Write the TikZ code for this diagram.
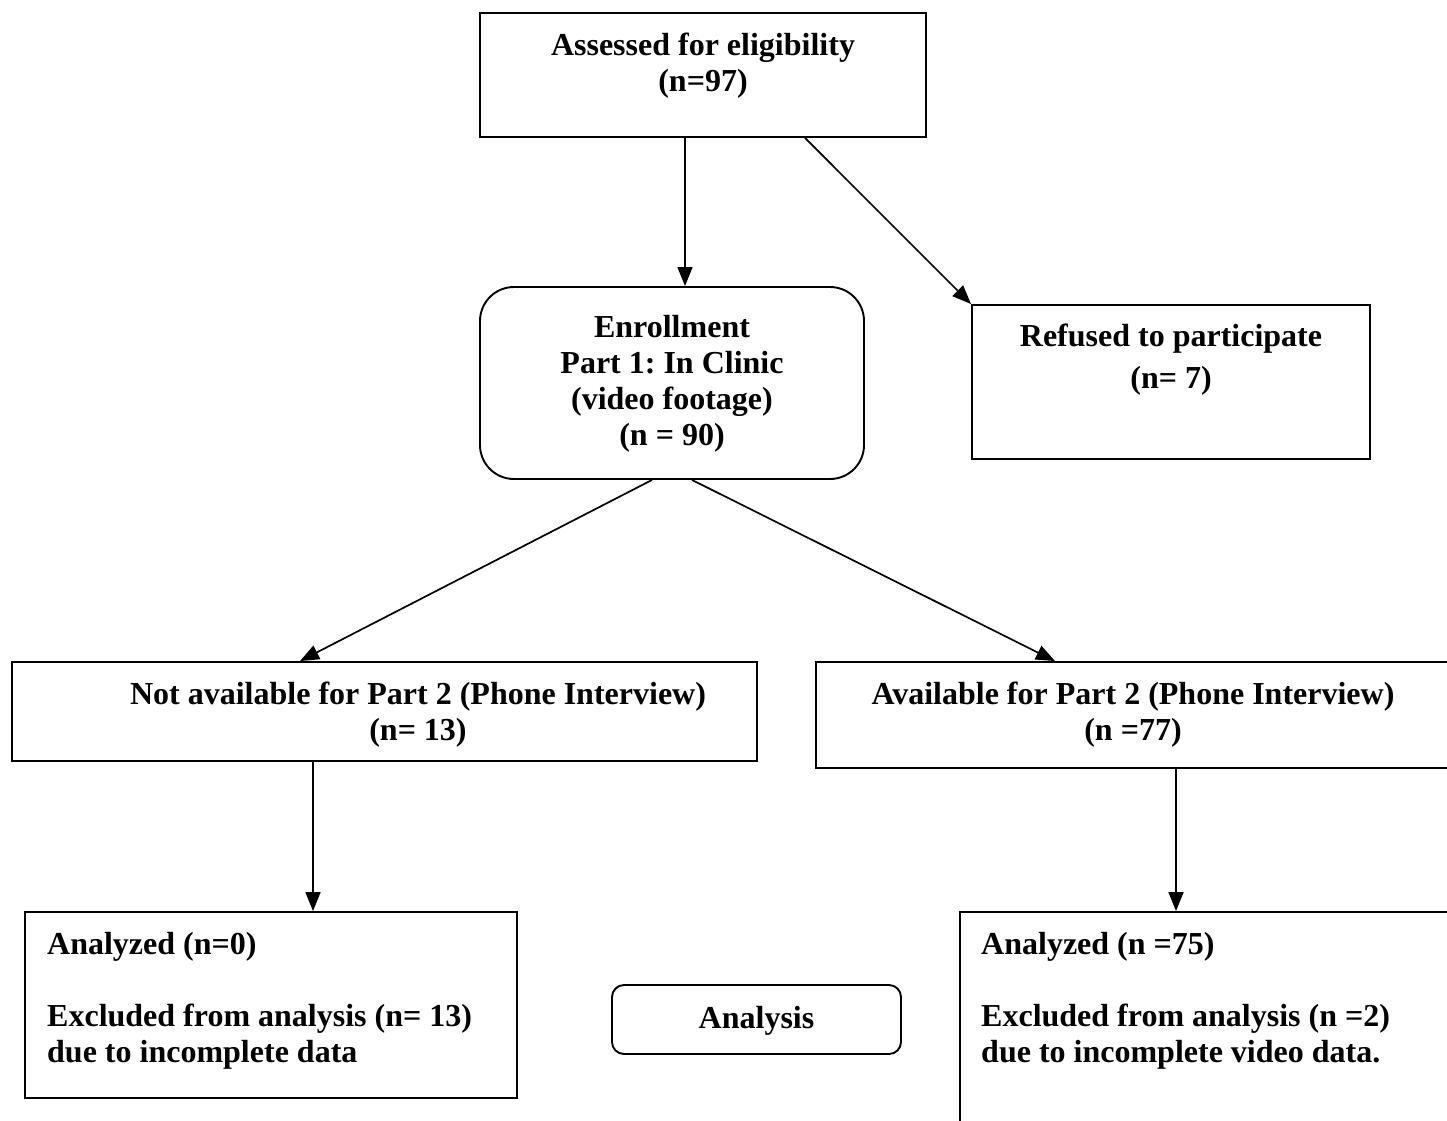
\documentclass[tikz,border=0pt]{standalone}
\usepackage{fontspec}
\setmainfont{Liberation Serif}
\frenchspacing
\usetikzlibrary{arrows.meta,calc}
\tikzset{
  box/.style={draw, line width=1.9pt, inner sep=0pt},
  rbox/.style={box, rounded corners=34pt},
  srbox/.style={box, rounded corners=12pt},
  txt/.style={font=\fontsize{32}{36}\selectfont\bfseries, align=center, inner sep=0pt},
  ltxt/.style={font=\fontsize{32}{36}\selectfont\bfseries, align=left, inner sep=0pt, anchor=west},
  arr/.style={line width=1.7pt, -{Triangle[length=19pt,width=15pt]}},
}
\begin{document}
\begin{tikzpicture}[x=1pt,y=-1pt]
\useasboundingbox (0,0) rectangle (1447,1120);
\clip (0,0) rectangle (1447,1120);
% boxes
\node[box, minimum width=446pt, minimum height=124pt] (top) at (703,75) {};
\node[rbox, minimum width=384pt, minimum height=192pt] (enroll) at (672,383) {};
\node[box, minimum width=398pt, minimum height=154pt] (refused) at (1171,382) {};
\node[box, minimum width=745pt, minimum height=99pt] (notavail) at (384.5,711.5) {};
\node[box, minimum width=644pt, minimum height=106pt] (avail) at (1138,715) {};
\node[box, minimum width=492pt, minimum height=186pt] (anL) at (271,1005) {};
\node[srbox, minimum width=289pt, minimum height=69pt] (analysis) at (756.5,1019.5) {};
\node[box, minimum width=500pt, minimum height=236pt] (anR) at (1210,1030) {};
% texts
\node[txt] (toptxt) at (703,66) {Assessed for eligibility\\(n=97)};
\node[txt] (enrtxt) at (672,384) {Enrollment\\Part 1: In Clinic\\(video footage)\\(n = 90)};
\node[txt] (reftxt) at (1171,360) {Refused to participate\\[6pt](n= 7)};
\node[txt] (natxt) at (418,715) {Not available for Part 2 (Phone Interview)\\(n= 13)};
\node[txt] (avtxt) at (1133,715) {Available for Part 2 (Phone Interview)\\(n =77)};
\node[ltxt] (anLtxt) at (47,1001) {Analyzed (n=0)\\[36pt]Excluded from analysis (n= 13)\\due to incomplete data};
\node[txt] (antxt) at (756.5,1021) {Analysis};
\node[ltxt] (anRtxt) at (981,1001) {Analyzed (n =75)\\[36pt]Excluded from analysis (n =2)\\due to incomplete video data.};
% connectors
\draw[arr] ([xshift=-18pt]top.south) -- ([xshift=13pt]enroll.north);
\draw[arr] ([xshift=102pt]top.south) -- (refused.north west);
\draw[arr] ([xshift=-20pt]enroll.south) -- ([xshift=-84.5pt]notavail.north);
\draw[arr] ([xshift=20pt]enroll.south) -- ([xshift=-83pt]avail.north);
\draw[arr] ([xshift=-71.5pt]notavail.south) -- ([xshift=42pt]anL.north);
\draw[arr] ([xshift=38pt]avail.south) -- ([xshift=-34pt]anR.north);
\end{tikzpicture}
\end{document}
